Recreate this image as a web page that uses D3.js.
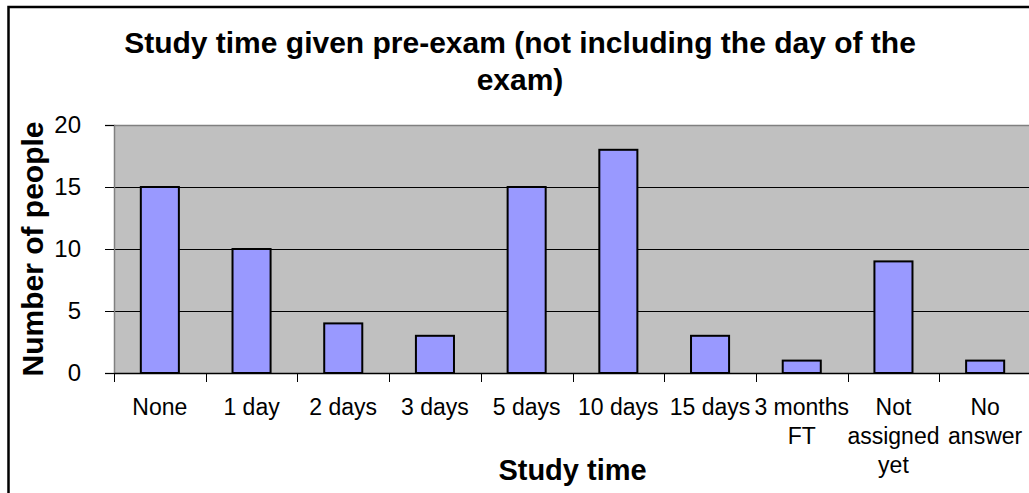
<!DOCTYPE html>
<html>
<head>
<meta charset="utf-8">
<script src="https://cdn.jsdelivr.net/npm/d3@7"></script>
<style>
  html, body { margin: 0; padding: 0; background: #fff; }
  svg { display: block; }
  text { font-family: "Liberation Sans", Arial, sans-serif; }
</style>
</head>
<body>
<svg id="chart" width="1029" height="493"></svg>
<script>
const categories = [["None"], ["1 day"], ["2 days"], ["3 days"], ["5 days"], ["10 days"], ["15 days"], ["3 months", "FT"], ["Not", "assigned", "yet"], ["No", "answer"]];
const values = [15, 10, 4, 3, 15, 18, 3, 1, 9, 1];
const yTicks = [0, 5, 10, 15, 20];
const titleLines = ["Study time given pre-exam (not including the day of the", "exam)"];
const xTitle = "Study time";
const yTitle = "Number of people";

const svg = d3.select("#chart");
const plot = { left: 114, right: 1031, top: 125, bottom: 373 };
const keys = categories.map((c, i) => i);

// Outer chart border (extends beyond the window on right/bottom)
svg.append("rect")
  .attr("x", 8.5).attr("y", 7).attr("width", 1100).attr("height", 1000)
  .attr("fill", "#fff").attr("stroke", "#000").attr("stroke-width", 2.5);

const xBand = d3.scaleBand().domain(keys).range([plot.left, plot.right]).padding(0);
const xBar = d3.scaleBand().domain(keys).range([plot.left, plot.right])
  .paddingInner(0.585).paddingOuter(0.2925);
const y = d3.scaleLinear().domain([0, 20]).range([plot.bottom, plot.top]);

// Plot background
svg.append("rect")
  .attr("x", plot.left).attr("y", plot.top)
  .attr("width", plot.right - plot.left).attr("height", plot.bottom - plot.top)
  .attr("fill", "#C0C0C0");

// Gridlines
svg.append("g").selectAll("line")
  .data(yTicks.filter(t => t > 0 && t < 20))
  .join("line")
  .attr("x1", plot.left).attr("x2", plot.right)
  .attr("y1", d => Math.round(y(d)) + 0.5).attr("y2", d => Math.round(y(d)) + 0.5)
  .attr("stroke", "#000").attr("stroke-width", 1);

// Top border of plot
svg.append("line")
  .attr("x1", plot.left).attr("x2", plot.right)
  .attr("y1", plot.top + 0.5).attr("y2", plot.top + 0.5)
  .attr("stroke", "#808080").attr("stroke-width", 1.5);

// Bars
svg.append("g").selectAll("rect")
  .data(values)
  .join("rect")
  .attr("x", (d, i) => xBar(i))
  .attr("width", xBar.bandwidth())
  .attr("y", d => y(d))
  .attr("height", d => y(0) - y(d))
  .attr("fill", "#9999FF")
  .attr("stroke", "#000").attr("stroke-width", 2);

// Y axis
const yAxis = d3.axisLeft(y).tickValues(yTicks).tickSize(9).tickPadding(24).tickFormat(d3.format("d"));
const gy = svg.append("g").attr("transform", `translate(${plot.left},0)`).call(yAxis);
gy.select(".domain").attr("stroke", "#808080").attr("stroke-width", 1.5);
gy.selectAll(".tick line").attr("stroke", "#000");
gy.selectAll(".tick text")
  .attr("font-size", 24).attr("fill", "#000")
  .style("font-family", '"Liberation Sans", Arial, sans-serif');

// X axis (ticks at band boundaries)
const xAxis = d3.axisBottom(xBand).tickSize(0).tickFormat("");
const gx = svg.append("g").attr("transform", `translate(0,${plot.bottom})`).call(xAxis);
gx.select(".domain").attr("stroke", "#000").attr("stroke-width", 1.5);
gx.selectAll(".tick").remove();
const boundaries = keys.map(i => xBand(i));
gx.selectAll("line.bt").data(boundaries).join("line")
  .attr("class", "bt")
  .attr("x1", d => Math.round(d) + 0.5).attr("x2", d => Math.round(d) + 0.5)
  .attr("y1", 0).attr("y2", 9)
  .attr("stroke", "#000").attr("stroke-width", 1);

// X category labels
const xl = svg.append("g");
categories.forEach((lines, i) => {
  const t = xl.append("text")
    .attr("x", xBand(i) + xBand.bandwidth() / 2)
    .attr("y", 415)
    .attr("text-anchor", "middle")
    .attr("font-size", 23)
    .attr("fill", "#000");
  lines.forEach((ln, j) => {
    t.append("tspan").attr("x", xBand(i) + xBand.bandwidth() / 2)
      .attr("y", 415 + j * 29).text(ln);
  });
});

// Title
const tt = svg.append("text")
  .attr("text-anchor", "middle").attr("font-size", 30).attr("font-weight", "bold").attr("fill", "#000");
titleLines.forEach((ln, j) => {
  tt.append("tspan").attr("x", 520).attr("y", 53 + j * 37).text(ln);
});

// Axis titles
svg.append("text")
  .attr("x", (plot.left + plot.right) / 2).attr("y", 480)
  .attr("text-anchor", "middle").attr("font-size", 29).attr("font-weight", "bold")
  .text(xTitle);

svg.append("text")
  .attr("transform", `translate(43,${(plot.top + plot.bottom) / 2}) rotate(-90)`)
  .attr("text-anchor", "middle").attr("font-size", 30).attr("font-weight", "bold")
  .text(yTitle);
</script>
</body>
</html>
